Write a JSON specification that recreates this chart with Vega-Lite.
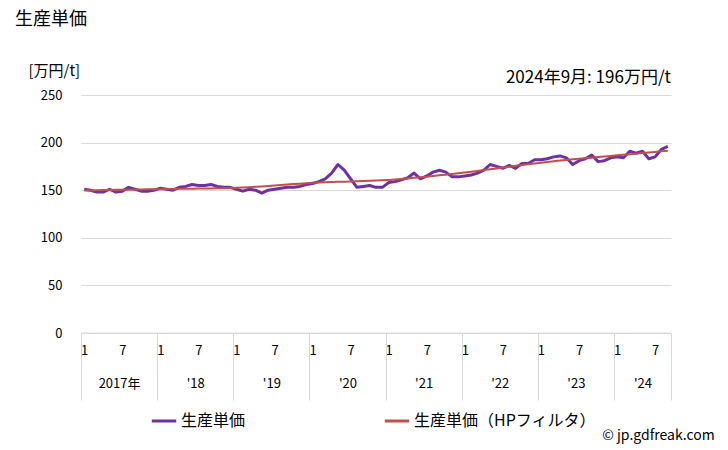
{
  "$schema": "https://vega.github.io/schema/vega-lite/v6.json",
  "width": 590,
  "height": 238,
  "autosize": {"type": "none"},
  "padding": {"left": 81, "top": 95, "right": 57, "bottom": 117},
  "background": "white",
  "config": {
    "font": "Noto Sans CJK JP",
    "view": {"stroke": null},
    "axis": {"labelColor": "#000000", "titleColor": "#000000", "labelFont": "Noto Sans CJK JP", "titleFont": "Noto Sans CJK JP"},
    "legend": {"labelFont": "Noto Sans CJK JP"}
  },
  "title": {
    "text": "生産単価",
    "anchor": "start",
    "frame": "group",
    "dx": -66,
    "offset": 34,
    "fontSize": 18,
    "fontWeight": "normal",
    "color": "#000000",
    "font": "Noto Sans CJK JP"
  },
  "data": {
    "values": [
      {"date": "2017-01", "m": 0, "price": 151, "hp": 149.6},
      {"date": "2017-02", "m": 1, "price": 150, "hp": 149.8},
      {"date": "2017-03", "m": 2, "price": 148, "hp": 150.0},
      {"date": "2017-04", "m": 3, "price": 148, "hp": 150.1},
      {"date": "2017-05", "m": 4, "price": 151, "hp": 150.3},
      {"date": "2017-06", "m": 5, "price": 148, "hp": 150.4},
      {"date": "2017-07", "m": 6, "price": 149, "hp": 150.5},
      {"date": "2017-08", "m": 7, "price": 153, "hp": 150.6},
      {"date": "2017-09", "m": 8, "price": 151, "hp": 150.7},
      {"date": "2017-10", "m": 9, "price": 149, "hp": 150.8},
      {"date": "2017-11", "m": 10, "price": 149, "hp": 150.9},
      {"date": "2017-12", "m": 11, "price": 150, "hp": 151.0},
      {"date": "2018-01", "m": 12, "price": 152, "hp": 151.1},
      {"date": "2018-02", "m": 13, "price": 151, "hp": 151.2},
      {"date": "2018-03", "m": 14, "price": 150, "hp": 151.3},
      {"date": "2018-04", "m": 15, "price": 153, "hp": 151.4},
      {"date": "2018-05", "m": 16, "price": 154, "hp": 151.5},
      {"date": "2018-06", "m": 17, "price": 156, "hp": 151.6},
      {"date": "2018-07", "m": 18, "price": 155, "hp": 151.7},
      {"date": "2018-08", "m": 19, "price": 155, "hp": 151.8},
      {"date": "2018-09", "m": 20, "price": 156, "hp": 151.9},
      {"date": "2018-10", "m": 21, "price": 154, "hp": 152.0},
      {"date": "2018-11", "m": 22, "price": 153, "hp": 152.1},
      {"date": "2018-12", "m": 23, "price": 153, "hp": 152.3},
      {"date": "2019-01", "m": 24, "price": 151, "hp": 152.5},
      {"date": "2019-02", "m": 25, "price": 149, "hp": 152.8},
      {"date": "2019-03", "m": 26, "price": 151, "hp": 153.1},
      {"date": "2019-04", "m": 27, "price": 150, "hp": 153.5},
      {"date": "2019-05", "m": 28, "price": 147, "hp": 153.9},
      {"date": "2019-06", "m": 29, "price": 150, "hp": 154.4},
      {"date": "2019-07", "m": 30, "price": 151, "hp": 154.9},
      {"date": "2019-08", "m": 31, "price": 152, "hp": 155.4},
      {"date": "2019-09", "m": 32, "price": 153, "hp": 155.9},
      {"date": "2019-10", "m": 33, "price": 153, "hp": 156.4},
      {"date": "2019-11", "m": 34, "price": 154, "hp": 156.9},
      {"date": "2019-12", "m": 35, "price": 156, "hp": 157.3},
      {"date": "2020-01", "m": 36, "price": 157, "hp": 157.7},
      {"date": "2020-02", "m": 37, "price": 159, "hp": 158.0},
      {"date": "2020-03", "m": 38, "price": 162, "hp": 158.3},
      {"date": "2020-04", "m": 39, "price": 168, "hp": 158.6},
      {"date": "2020-05", "m": 40, "price": 177, "hp": 158.8},
      {"date": "2020-06", "m": 41, "price": 171, "hp": 159.0},
      {"date": "2020-07", "m": 42, "price": 162, "hp": 159.2},
      {"date": "2020-08", "m": 43, "price": 153, "hp": 159.4},
      {"date": "2020-09", "m": 44, "price": 154, "hp": 159.6},
      {"date": "2020-10", "m": 45, "price": 155, "hp": 159.8},
      {"date": "2020-11", "m": 46, "price": 153, "hp": 160.1},
      {"date": "2020-12", "m": 47, "price": 153, "hp": 160.4},
      {"date": "2021-01", "m": 48, "price": 158, "hp": 160.8},
      {"date": "2021-02", "m": 49, "price": 159, "hp": 161.3},
      {"date": "2021-03", "m": 50, "price": 161, "hp": 161.8},
      {"date": "2021-04", "m": 51, "price": 163, "hp": 162.4},
      {"date": "2021-05", "m": 52, "price": 168, "hp": 163.0},
      {"date": "2021-06", "m": 53, "price": 162, "hp": 163.6},
      {"date": "2021-07", "m": 54, "price": 165, "hp": 164.2},
      {"date": "2021-08", "m": 55, "price": 169, "hp": 164.9},
      {"date": "2021-09", "m": 56, "price": 171, "hp": 165.6},
      {"date": "2021-10", "m": 57, "price": 169, "hp": 166.3},
      {"date": "2021-11", "m": 58, "price": 164, "hp": 167.0},
      {"date": "2021-12", "m": 59, "price": 164, "hp": 167.7},
      {"date": "2022-01", "m": 60, "price": 165, "hp": 168.5},
      {"date": "2022-02", "m": 61, "price": 166, "hp": 169.3},
      {"date": "2022-03", "m": 62, "price": 168, "hp": 170.2},
      {"date": "2022-04", "m": 63, "price": 171, "hp": 171.1},
      {"date": "2022-05", "m": 64, "price": 177, "hp": 172.0},
      {"date": "2022-06", "m": 65, "price": 175, "hp": 172.9},
      {"date": "2022-07", "m": 66, "price": 173, "hp": 173.8},
      {"date": "2022-08", "m": 67, "price": 176, "hp": 174.7},
      {"date": "2022-09", "m": 68, "price": 173, "hp": 175.6},
      {"date": "2022-10", "m": 69, "price": 178, "hp": 176.5},
      {"date": "2022-11", "m": 70, "price": 178, "hp": 177.3},
      {"date": "2022-12", "m": 71, "price": 182, "hp": 178.1},
      {"date": "2023-01", "m": 72, "price": 182, "hp": 178.9},
      {"date": "2023-02", "m": 73, "price": 183, "hp": 179.7},
      {"date": "2023-03", "m": 74, "price": 185, "hp": 180.4},
      {"date": "2023-04", "m": 75, "price": 186, "hp": 181.1},
      {"date": "2023-05", "m": 76, "price": 184, "hp": 181.8},
      {"date": "2023-06", "m": 77, "price": 177, "hp": 182.4},
      {"date": "2023-07", "m": 78, "price": 181, "hp": 183.0},
      {"date": "2023-08", "m": 79, "price": 183, "hp": 183.6},
      {"date": "2023-09", "m": 80, "price": 187, "hp": 184.2},
      {"date": "2023-10", "m": 81, "price": 180, "hp": 184.8},
      {"date": "2023-11", "m": 82, "price": 181, "hp": 185.4},
      {"date": "2023-12", "m": 83, "price": 184, "hp": 186.0},
      {"date": "2024-01", "m": 84, "price": 185, "hp": 186.6},
      {"date": "2024-02", "m": 85, "price": 184, "hp": 187.2},
      {"date": "2024-03", "m": 86, "price": 191, "hp": 187.8},
      {"date": "2024-04", "m": 87, "price": 189, "hp": 188.4},
      {"date": "2024-05", "m": 88, "price": 191, "hp": 189.0},
      {"date": "2024-06", "m": 89, "price": 183, "hp": 189.6},
      {"date": "2024-07", "m": 90, "price": 185, "hp": 190.2},
      {"date": "2024-08", "m": 91, "price": 193, "hp": 190.8},
      {"date": "2024-09", "m": 92, "price": 196, "hp": 191.4}
    ]
  },
  "layer": [
    {
      "mark": {"type": "line", "strokeWidth": 3, "strokeJoin": "round"},
      "encoding": {
        "x": {
          "field": "m", "type": "quantitative",
          "scale": {"domain": [-0.5, 92.5], "nice": false, "zero": false},
          "axis": {
            "orient": "bottom", "title": null, "grid": false, "domain": false, "ticks": false,
            "values": [0, 6, 12, 18, 24, 30, 36, 42, 48, 54, 60, 66, 72, 78, 84, 90],
            "labelExpr": "datum.value % 12 == 0 ? '1' : '7'",
            "labelFontSize": 13, "labelPadding": 11, "labelFlush": false, "labelOverlap": false
          }
        },
        "y": {
          "field": "price", "type": "quantitative",
          "scale": {"domain": [0, 250], "nice": false},
          "axis": {
            "orient": "left",
            "values": [0, 50, 100, 150, 200, 250],
            "title": "[万円/t]", "titleAngle": 0, "titleAlign": "left", "titleBaseline": "middle",
            "titleX": -53, "titleY": -25, "titleFontSize": 15, "titleFontWeight": "normal",
            "domain": false, "ticks": false, "labelFontSize": 13, "labelPadding": 19,
            "grid": true, "gridColor": "#d9d9d9", "gridWidth": 1
          }
        },
        "color": {
          "datum": "生産単価",
          "scale": {"domain": ["生産単価", "生産単価（HPフィルタ）"], "range": ["#7030A0", "#C0504D"]},
          "legend": {
            "title": null, "orient": "none", "direction": "horizontal",
            "legendX": 69, "legendY": 312,
            "symbolType": "stroke", "symbolSize": 600, "symbolStrokeWidth": 3,
            "labelFontSize": 16, "labelColor": "#000000", "labelOffset": 3,
            "columnPadding": 132, "labelLimit": 300
          }
        }
      }
    },
    {
      "mark": {"type": "line", "strokeWidth": 2},
      "encoding": {
        "x": {"field": "m", "type": "quantitative", "scale": {"domain": [-0.5, 92.5], "nice": false, "zero": false}, "axis": null},
        "y": {"field": "hp", "type": "quantitative", "scale": {"domain": [0, 250], "nice": false}, "axis": null},
        "color": {"datum": "生産単価（HPフィルタ）"}
      }
    },
    {
      "data": {"values": [{"note": "2024年9月: 196万円/t"}]},
      "mark": {"type": "text", "align": "right", "baseline": "middle", "fontSize": 17, "color": "#000000"},
      "encoding": {
        "text": {"field": "note"},
        "x": {
          "datum": 92.5, "type": "quantitative",
          "scale": {"domain": [-0.5, 92.5], "nice": false, "zero": false},
          "axis": {
            "orient": "bottom", "title": null, "grid": false, "domain": false, "ticks": false,
            "values": [5.5, 17.5, 29.5, 41.5, 53.5, 65.5, 77.5, 88],
            "labelExpr": "datum.value < 12 ? '2017年' : \"'\" + (17 + floor((datum.value + 0.5) / 12))",
            "labelFontSize": 13, "labelPadding": 44, "labelFlush": false, "labelOverlap": false
          }
        },
        "y": {"datum": 268, "type": "quantitative", "scale": {"domain": [0, 250], "nice": false}, "axis": null}
      }
    },
    {
      "data": {"values": [{"base": 0}]},
      "mark": {"type": "rule", "color": "#d9d9d9", "strokeWidth": 1},
      "encoding": {
        "x": {
          "datum": -0.5, "type": "quantitative",
          "scale": {"domain": [-0.5, 92.5], "nice": false, "zero": false},
          "axis": {
            "orient": "bottom", "title": null, "grid": false, "domain": false, "labels": false,
            "ticks": true, "tickSize": 67, "tickColor": "#d9d9d9", "tickWidth": 1,
            "values": [-0.5, 11.5, 23.5, 35.5, 47.5, 59.5, 71.5, 83.5, 92.5]
          }
        },
        "x2": {"datum": 92.5},
        "y": {"field": "base", "type": "quantitative", "scale": {"domain": [0, 250], "nice": false}, "axis": null}
      }
    },
    {
      "data": {"values": [{"credit": "© jp.gdfreak.com"}]},
      "mark": {"type": "text", "align": "right", "baseline": "middle", "fontSize": 14, "color": "#000000"},
      "encoding": {
        "text": {"field": "credit"},
        "x": {"datum": 99.4, "type": "quantitative", "scale": {"domain": [-0.5, 92.5], "nice": false, "zero": false}, "axis": null},
        "y": {"datum": -108, "type": "quantitative", "scale": {"domain": [0, 250], "nice": false}, "axis": null}
      }
    }
  ],
  "resolve": {"axis": {"x": "independent", "y": "independent"}}
}
